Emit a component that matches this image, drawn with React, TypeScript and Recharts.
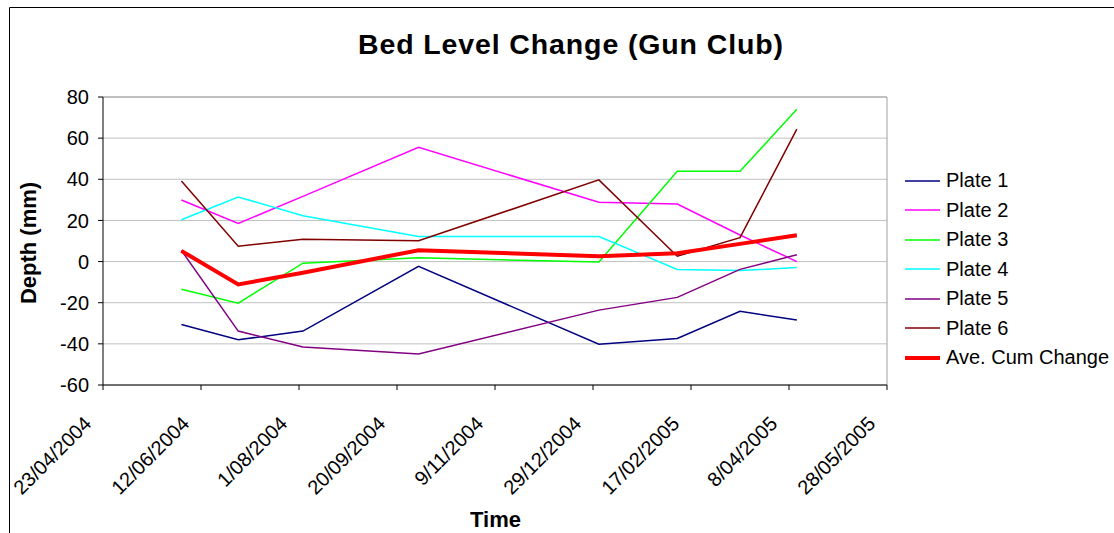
import React from 'react';
import { LineChart, Line, XAxis, YAxis, CartesianGrid, ReferenceLine, Legend } from 'recharts';

// survey dates (d/mm/yyyy) and readings in mm
const sampleDates = ['2/06/2004', '1/07/2004', '3/08/2004', '1/10/2004', '1/01/2005', '10/02/2005', '14/03/2005', '12/04/2005'];
const plate1 = [-30.6, -38, -33.8, -2.3, -40.2, -37.4, -24.2, -28.4];
const plate2 = [29.9, 18.5, 31.7, 55.5, 28.8, 28, 12.9, 0];
const plate3 = [-13.5, -20.2, -0.8, 1.8, -0.2, 43.9, 43.9, 74];
const plate4 = [20.3, 31.4, 22.3, 12.2, 12.2, -3.8, -4.4, -2.9];
const plate5 = [5.4, -33.8, -41.5, -44.9, -23.6, -17.4, -3.8, 3.3];
const plate6 = [39.2, 7.5, 10.9, 10.1, 39.7, 2.6, 11.6, 64.4];
const aveCumChange = [5.2, -11.1, -5.4, 5.5, 2.6, 4.1, 8.6, 12.8];

const seriesNames = ['Plate 1', 'Plate 2', 'Plate 3', 'Plate 4', 'Plate 5', 'Plate 6', 'Ave. Cum Change'];
const seriesColors = ['#000080', '#ff00ff', '#00ff00', '#00ffff', '#800080', '#800000', '#ff0000'];
const seriesValues = [plate1, plate2, plate3, plate4, plate5, plate6, aveCumChange];

const xTickLabels = ['23/04/2004', '12/06/2004', '1/08/2004', '20/09/2004', '9/11/2004', '29/12/2004', '17/02/2005', '8/04/2005', '28/05/2005'];
const yTicks = [-60, -40, -20, 0, 20, 40, 60, 80];

const FONT = '"Liberation Sans", Arial, sans-serif';

// days since the first axis date
const ORIGIN = Date.UTC(2004, 3, 23);
const toDay = (s: string) => {
  const [d, m, y] = s.split('/').map(Number);
  return Math.round((Date.UTC(y, m - 1, d) - ORIGIN) / 86400000);
};

const xTicks = xTickLabels.map(toDay);

const data = sampleDates.map((d, i) => {
  const row: Record<string, number> = { day: toDay(d) };
  seriesNames.forEach((name, s) => {
    row[name] = seriesValues[s][i];
  });
  return row;
});

const widthOf = (name: string) => (name === 'Ave. Cum Change' ? 4 : 1.5);

const DateTick = (props: any) => {
  const { x, y, payload } = props;
  const label = xTickLabels[xTicks.indexOf(payload.value)];
  const ax = x - 10.5;
  const ay = y + 33;
  return (
    <text x={ax} y={ay} transform={`rotate(-45 ${ax} ${ay})`} textAnchor="end" fontSize={20} fontFamily={FONT} fill="#000">
      {label}
    </text>
  );
};

const LegendContent = () => (
  <div style={{ fontFamily: FONT }}>
    {seriesNames.map((name, i) => (
      <div key={name} style={{ display: 'flex', alignItems: 'center', height: 29.5 }}>
        <svg width={36} height={10} style={{ display: 'block' }}>
          <line x1={0} x2={35} y1={5} y2={5} stroke={seriesColors[i]} strokeWidth={widthOf(name)} />
        </svg>
        <span style={{ marginLeft: 5, fontSize: 20, color: '#000', whiteSpace: 'nowrap' }}>{name}</span>
      </div>
    ))}
  </div>
);

export default function App() {
  return (
    <div style={{ position: 'absolute', left: 0, top: 0, width: 1114, height: 533, overflow: 'hidden', background: '#fff' }}>
      <LineChart width={1114} height={533} data={data} margin={{ top: 97, right: 227, bottom: 48, left: 43 }}>
        <CartesianGrid horizontal vertical={false} stroke="#c0c0c0" />
        <ReferenceLine y={80} stroke="#a0a0a0" />
        <ReferenceLine x={400} stroke="#a0a0a0" />
        <XAxis
          dataKey="day"
          type="number"
          domain={[0, 400]}
          ticks={xTicks}
          interval={0}
          tick={DateTick}
          tickSize={5}
          tickMargin={2}
          height={100}
          axisLine={{ stroke: '#000' }}
          tickLine={{ stroke: '#000' }}
        />
        <YAxis
          type="number"
          domain={[-60, 80]}
          ticks={yTicks}
          interval={0}
          width={60}
          tickSize={5}
          tickMargin={9}
          tick={{ fontSize: 20, fill: '#000', fontFamily: FONT }}
          axisLine={{ stroke: '#000' }}
          tickLine={{ stroke: '#000' }}
        />
        {seriesNames.map((name, i) => (
          <Line
            key={name}
            type="linear"
            dataKey={name}
            name={name}
            stroke={seriesColors[i]}
            strokeWidth={widthOf(name)}
            dot={false}
            activeDot={false}
            isAnimationActive={false}
          />
        ))}
        <Legend
          layout="vertical"
          align="center"
          verticalAlign="middle"
          content={LegendContent}
          wrapperStyle={{ left: 905, top: 166, width: 209 }}
        />
      </LineChart>
      <svg width={1114} height={533} style={{ position: 'absolute', left: 0, top: 0, pointerEvents: 'none' }}>
        <polyline points="1114,7.5 9.5,7.5 9.5,533" fill="none" stroke="#000" strokeWidth={1} />
        <text x={570.5} y={53.5} textAnchor="middle" fontSize={28.5} fontWeight="bold" fontFamily={FONT} textLength={425} lengthAdjust="spacing">
          Bed Level Change (Gun Club)
        </text>
        <text x={495.5} y={526.5} textAnchor="middle" fontSize={22} fontWeight="bold" fontFamily={FONT}>
          Time
        </text>
        <text x={36} y={243} transform="rotate(-90 36 243)" textAnchor="middle" fontSize={22} fontWeight="bold" fontFamily={FONT}>
          Depth (mm)
        </text>
      </svg>
    </div>
  );
}
